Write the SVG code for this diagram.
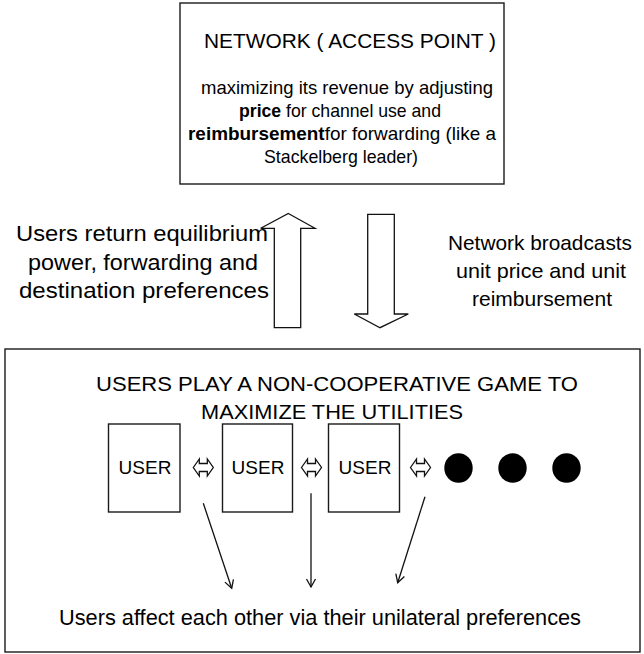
<svg xmlns="http://www.w3.org/2000/svg" width="644" height="654" viewBox="0 0 644 654">
  <style>
    .box { fill: #ffffff; stroke: #1a1a1a; stroke-width: 1.4; }
    .hollow { fill: #ffffff; stroke: #111111; stroke-width: 1.3; stroke-linejoin: miter; }
    .ptr { fill: none; stroke: #111111; stroke-width: 1.3; }
    .t { font-family: "Liberation Sans", Arial, Helvetica, sans-serif; fill: #000000; text-anchor: middle; }
    .title { font-size: 21px; }
    .body { font-size: 19px; }
    .side { font-size: 22.5px; }
    .side-r { font-size: 21px; }
    .user { font-size: 19px; }
    .b { font-weight: bold; }
  </style>
  <defs>
    <marker id="vhead" markerWidth="12" markerHeight="12" refX="10" refY="6" orient="auto" markerUnits="userSpaceOnUse">
      <path d="M2,1.5 L10,6 L2,10.5" fill="none" stroke="#111111" stroke-width="1.3"/>
    </marker>
    <path id="dbl" d="M0,10 L6,1.5 L6,6 L14,6 L14,1.5 L20,10 L14,18.5 L14,14 L6,14 L6,18.5 Z"/>
  </defs>

  <rect width="644" height="654" fill="#ffffff"/>

  <!-- Access point (Stackelberg leader) -->
  <g id="network">
    <rect class="box" x="180" y="3" width="324" height="181"/>
    <text class="t title" x="350" y="47.5" textLength="292" lengthAdjust="spacingAndGlyphs">NETWORK ( ACCESS POINT )</text>
    <text class="t body" x="347" y="93.5" textLength="292" lengthAdjust="spacingAndGlyphs">maximizing its revenue by adjusting</text>
    <text class="t body" x="340" y="116.5" textLength="202" lengthAdjust="spacingAndGlyphs"><tspan class="b">price</tspan> for channel use and</text>
    <text class="t body" x="342" y="139.5" textLength="308" lengthAdjust="spacingAndGlyphs"><tspan class="b">reimbursement</tspan>for forwarding (like a</text>
    <text class="t body" x="341" y="162.5" textLength="154" lengthAdjust="spacingAndGlyphs">Stackelberg leader)</text>
  </g>

  <!-- Feedback labels beside the exchange arrows -->
  <g id="label-users-return">
    <text class="t side" x="142" y="241" textLength="252" lengthAdjust="spacingAndGlyphs">Users return equilibrium</text>
    <text class="t side" x="143" y="269.5" textLength="230" lengthAdjust="spacingAndGlyphs">power, forwarding and</text>
    <text class="t side" x="144" y="298" textLength="250" lengthAdjust="spacingAndGlyphs">destination preferences</text>
  </g>
  <g id="label-network-broadcasts">
    <text class="t side-r" x="540" y="249.5" textLength="184" lengthAdjust="spacingAndGlyphs">Network broadcasts</text>
    <text class="t side-r" x="541" y="277.5" textLength="170" lengthAdjust="spacingAndGlyphs">unit price and unit</text>
    <text class="t side-r" x="542" y="305.5" textLength="140" lengthAdjust="spacingAndGlyphs">reimbursement</text>
  </g>

  <!-- Follower game among the users -->
  <g id="users-game">
    <rect class="box" x="5" y="349" width="635" height="303"/>
    <text class="t title" x="337" y="391" textLength="482" lengthAdjust="spacingAndGlyphs">USERS PLAY A NON-COOPERATIVE GAME TO</text>
    <text class="t title" x="332" y="419" textLength="262" lengthAdjust="spacingAndGlyphs">MAXIMIZE THE UTILITIES</text>
  </g>

  <g id="user-1">
    <rect class="box" x="108.5" y="424" width="71.5" height="88"/>
    <text class="t user" x="145" y="474">USER</text>
  </g>
  <g id="user-2">
    <rect class="box" x="222.5" y="424" width="70" height="88"/>
    <text class="t user" x="258" y="474">USER</text>
  </g>
  <g id="user-3">
    <rect class="box" x="328.5" y="424" width="71" height="88"/>
    <text class="t user" x="365" y="474">USER</text>
  </g>
  <g id="more-users">
    <ellipse cx="458.5" cy="468" rx="14.2" ry="14.7" fill="#000000"/>
    <ellipse cx="512.5" cy="468" rx="14.2" ry="14.7" fill="#000000"/>
    <ellipse cx="566.5" cy="468" rx="14.2" ry="14.7" fill="#000000"/>
  </g>

  <g id="label-users-affect">
    <text class="t side" x="320" y="625" textLength="522" lengthAdjust="spacingAndGlyphs">Users affect each other via their unilateral preferences</text>
  </g>

  <!-- Connectors -->
  <g id="connectors">
    <!-- users -> network -->
    <path class="hollow" d="M288.3,213.5 L315,228.3 L300.7,228.3 L300.7,327.7 L274.3,327.7 L274.3,228.3 L260.7,228.3 Z"/>
    <!-- network -> users -->
    <path class="hollow" d="M367.7,214.3 L394.3,214.3 L394.3,314 L408.3,314 L380,327.7 L354.3,314 L367.7,314 Z"/>
    <!-- mutual influence between neighbours -->
    <use href="#dbl" class="hollow" x="193.3" y="457.5"/>
    <use href="#dbl" class="hollow" x="301.5" y="457.5"/>
    <use href="#dbl" class="hollow" x="410.5" y="457.5"/>
    <!-- pointers to the caption -->
    <line class="ptr" x1="203.3" y1="503.3" x2="231.7" y2="588.3" marker-end="url(#vhead)"/>
    <line class="ptr" x1="311" y1="493.3" x2="311" y2="587" marker-end="url(#vhead)"/>
    <line class="ptr" x1="425" y1="496.7" x2="397.7" y2="582.7" marker-end="url(#vhead)"/>
  </g>
</svg>
